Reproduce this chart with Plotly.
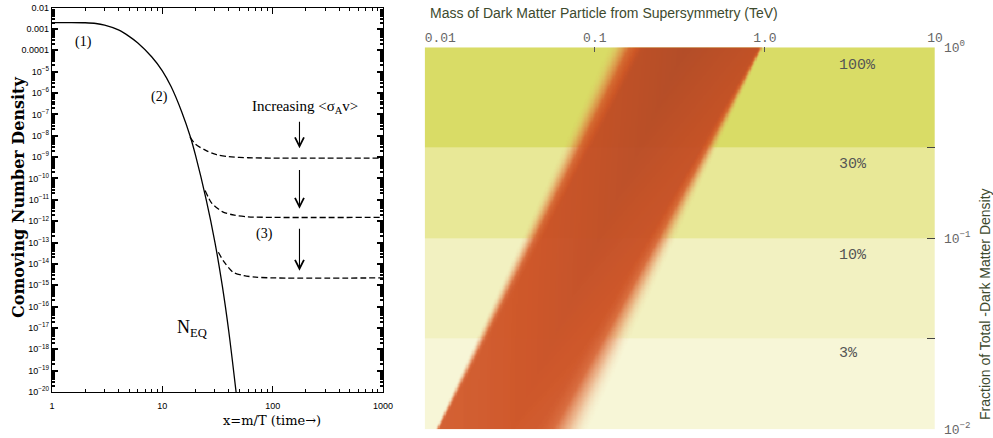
import numpy as np
import plotly.graph_objects as go

# ---------------- Left panel: freeze-out curves ----------------
eq_x = [1, 1.5, 2, 2.5, 3, 4, 5, 6, 8, 10, 12, 15, 18, 20, 25, 30, 35, 40, 46.6]
eq_y = [2.0e-3, 2.0e-3, 1.95e-3, 1.8e-3, 1.5e-3, 9e-4, 4.5e-4, 2.2e-4, 5e-5, 1.1e-5,
        2e-6, 1.3e-7, 8.5e-9, 1.2e-9, 1e-11, 1e-13, 9e-16, 7e-18, 1e-20]

fo1_x = [17.8, 20, 25, 31, 40, 60, 100, 1000]
fo1_y = [8.5e-9, 4e-9, 2e-9, 1.3e-9, 1.05e-9, 9.3e-10, 9e-10, 9e-10]
fo2_x = [24.4, 28, 32, 36, 45, 60, 100, 1000]
fo2_y = [2.7e-11, 7e-12, 3.8e-12, 2.6e-12, 1.9e-12, 1.6e-12, 1.5e-12, 1.5e-12]
fo3_x = [32.2, 36, 40, 44, 55, 70, 100, 1000]
fo3_y = [3.5e-14, 1.3e-14, 6.5e-15, 4e-15, 2.8e-15, 2.4e-15, 2.2e-15, 2.2e-15]

arrow_x = 175
arrow_tail = [10**-7.28, 10**-9.54, 10**-12.29]
arrow_head = [10**-8.59, 10**-11.42, 10**-14.32]

left_xticks = [1, 10, 100, 1000]
left_xtext = ["1", "10", "100", "1000"]
left_yticks = [10.0**-k for k in range(2, 21)]
left_ytext = ["0.01", "0.001", "0.0001"] + ["10<sup>\u2212%d</sup>" % k for k in range(5, 21)]

# ---------------- Right panel: dark matter fraction ----------------
band_edges = [0.01, 0.03, 0.1, 0.3, 1.0]          # ascending
band_colors = ["#f7f6d7", "#f2f1c1", "#e8e897", "#d9dc66"]  # bottom -> top
pct_labels = ["100%", "30%", "10%", "3%"]
pct_y = [0.80, 0.242, 0.0808, 0.025]
pct_x = 2.66
mass_range = [0.01, 10]

strip_frac = [0.01, 1.0]      # fraction at bottom / top of the diagonal strip
strip_mass_lo = [0.0115, 0.118]
strip_mass_hi = [0.094, 0.98]

right_xticks = [0.01, 0.1, 1, 10]
right_xtext = ["\u00a0\u00a0\u00a0\u00a00.01", "0.1", "1.0", "10"]
right_yticks = [1, 0.3, 0.1, 0.03, 0.01]
right_ytext = ["10<sup>0</sup>", "", "10<sup>\u22121</sup>", "", "10<sup>\u22122</sup>"]

fig = go.Figure()

# left curves
fig.add_trace(go.Scatter(x=eq_x, y=eq_y, mode="lines", line=dict(color="black", width=1.3, shape="spline", smoothing=0.8),
                         xaxis="x", yaxis="y", hoverinfo="skip"))
for fx, fy in [(fo1_x, fo1_y), (fo2_x, fo2_y), (fo3_x, fo3_y)]:
    fig.add_trace(go.Scatter(x=fx, y=fy, mode="lines",
                             line=dict(color="black", width=1.3, dash="6px,3px", shape="spline", smoothing=0.8),
                             xaxis="x", yaxis="y", hoverinfo="skip"))

# right background bands (heatmap so the strip can be layered on top)
nb = len(band_colors)
fig.add_trace(go.Heatmap(x=mass_range, y=band_edges, z=[[i] for i in range(nb)], zmin=0, zmax=nb - 1,
                         colorscale=[[i / (nb - 1), c] for i, c in enumerate(band_colors)],
                         showscale=False, hoverinfo="skip", xaxis="x2", yaxis="y2"))

# diagonal strip rendered as a soft-edged heatmap
nx, ny = 420, 300
lx_edges = np.linspace(np.log10(mass_range[0]), np.log10(mass_range[1]), nx + 1)
ly_edges = np.linspace(np.log10(band_edges[0]), np.log10(band_edges[-1]), ny + 1)
lxc = 0.5 * (lx_edges[:-1] + lx_edges[1:])
lyc = 0.5 * (ly_edges[:-1] + ly_edges[1:])
LX, LY = np.meshgrid(lxc, lyc)
lf = np.log10(strip_frac)
llo = np.log10(strip_mass_lo)
lhi = np.log10(strip_mass_hi)
t = (LY - lf[0]) / (lf[1] - lf[0])
left = llo[0] + t * (llo[1] - llo[0])
right = lhi[0] + t * (lhi[1] - lhi[0])
s = (LX - left) / (right - left)


def ss(u):
    u = np.clip(u, 0, 1)
    return u * u * (3 - 2 * u)


wl = 0.03 + 0.22 * t
wr = 0.03 + 0.32 * (1 - t)
a = ss(s / wl) * ss((1 - s) / wr)
core = 1 - 0.12 * np.abs(s - 0.5) / 0.5
z = a * (0.78 + 0.22 * t) * core
z[(s < 0) | (s > 1)] = np.nan

fig.add_trace(go.Heatmap(x=10 ** lx_edges, y=10 ** ly_edges, z=z, zmin=0, zmax=1,
                         colorscale=[[0.0, "rgba(232,140,90,0)"], [0.25, "rgba(224,112,62,0.45)"],
                                     [0.55, "rgba(212,88,40,0.86)"], [0.8, "rgba(204,80,35,0.96)"],
                                     [1.0, "rgba(178,72,38,0.97)"]],
                         showscale=False, hoverinfo="skip", xaxis="x2", yaxis="y2"))

annotations = []
for k in range(3):
    annotations.append(dict(x=np.log10(arrow_x), y=np.log10(arrow_head[k]), ax=np.log10(arrow_x),
                            ay=np.log10(arrow_tail[k]), xref="x", yref="y", axref="x", ayref="y",
                            text="", showarrow=True, arrowhead=5, arrowsize=1.6, arrowwidth=1.1,
                            arrowcolor="black"))

serif = "Liberation Serif"
C = dict(xanchor="center", yanchor="middle", showarrow=False)
annotations += [
    dict(x=np.log10(1.91), y=-3.6, xref="x", yref="y", text="(1)",
         font=dict(family=serif, size=14, color="black"), **C),
    dict(x=np.log10(9.5), y=-6.2, xref="x", yref="y", text="(2)",
         font=dict(family=serif, size=14, color="black"), **C),
    dict(x=np.log10(85), y=-12.58, xref="x", yref="y", text="(3)",
         font=dict(family=serif, size=14, color="black"), **C),
    dict(x=np.log10(197), y=-6.67, xref="x", yref="y", text="Increasing &lt;\u03c3<sub>A</sub>v&gt;",
         font=dict(family=serif, size=15, color="black"), **C),
    dict(x=np.log10(18.5), y=-17.04, xref="x", yref="y", text="N<sub>EQ</sub>",
         font=dict(family=serif, size=18, color="black"), **C),
    dict(x=18 / 993, y=1 - 198 / 438, xref="paper", yref="paper", text="<b>Comoving Number Density</b>",
         textangle=-90, font=dict(family="DejaVu Serif", size=16, color="black"), **C),
    dict(x=272 / 993, y=1 - 420 / 438, xref="paper", yref="paper", text="x=m/T (time\u2192)",
         font=dict(family="DejaVu Serif", size=13, color="black"), **C),
    dict(x=985 / 993, y=1 - 304 / 438, xref="paper", yref="paper",
         text="Fraction of Total -Dark Matter Density", textangle=-90,
         font=dict(family="Liberation Sans", size=14, color="#3d4a2e"), **C),
    dict(x=428 / 993, y=1 - 13 / 438, xref="paper", yref="paper", xanchor="left", yanchor="middle",
         text="Mass of Dark Matter Particle from Supersymmetry (TeV)", showarrow=False,
         font=dict(family="Liberation Sans", size=14, color="#3d4a2e")),
]
for lab, yy in zip(pct_labels, pct_y):
    annotations.append(dict(x=np.log10(pct_x), y=np.log10(yy), xref="x2", yref="y2", xanchor="left",
                            yanchor="middle", text=lab, showarrow=False,
                            font=dict(family="Liberation Mono", size=15, color="#555555")))

axis_font = dict(family="Liberation Sans", size=9, color="black")
fig.update_layout(
    width=993, height=438, margin=dict(l=0, r=0, t=0, b=0, autoexpand=False),
    paper_bgcolor="white", plot_bgcolor="rgba(0,0,0,0)", showlegend=False,
    annotations=annotations,
    xaxis=dict(domain=[52 / 993, 383 / 993], type="log", range=[0, 3], anchor="y", automargin=False,
               tickmode="array", tickvals=left_xticks, ticktext=left_xtext,
               ticks="inside", ticklen=6, tickwidth=1, tickcolor="black", mirror="allticks",
               showline=True, linecolor="black", linewidth=1.3, showgrid=False, zeroline=False,
               tickfont=axis_font, ticklabelstandoff=5,
               minor=dict(ticks="inside", ticklen=3, dtick="D1", tickcolor="black", showgrid=False)),
    yaxis=dict(domain=[(438 - 392) / 438, (438 - 7.6) / 438], type="log", range=[-20, -2], anchor="x",
               automargin=False,
               tickmode="array", tickvals=left_yticks, ticktext=left_ytext,
               ticks="inside", ticklen=6, tickwidth=1.5, tickcolor="black", mirror="allticks",
               showline=True, linecolor="black", linewidth=1.3, showgrid=False, zeroline=False,
               tickfont=axis_font,
               minor=dict(ticks="inside", ticklen=3, dtick="D1", tickcolor="black", showgrid=False)),
    xaxis2=dict(domain=[424.7 / 993, 935 / 993], type="log", range=[-2, 1], anchor="y2", side="top",
                automargin=False,
                tickmode="array", tickvals=right_xticks, ticktext=right_xtext,
                ticks="inside", ticklen=5, tickwidth=1.2, tickcolor="#555555",
                showline=False, showgrid=False, zeroline=False, ticklabelstandoff=2,
                tickfont=dict(family="Liberation Mono", size=13, color="#666666")),
    yaxis2=dict(domain=[(438 - 429.3) / 438, (438 - 47.3) / 438], type="log", range=[-2, 0], anchor="x2",
                side="right", automargin=False,
                tickmode="array", tickvals=right_yticks, ticktext=right_ytext,
                ticks="inside", ticklen=8, tickwidth=1.2, tickcolor="#444444",
                showline=False, showgrid=False, zeroline=False, ticklabelstandoff=8,
                tickfont=dict(family="Liberation Mono", size=13, color="#666666")),
)

fig.write_html("out.html", config={"displayModeBar": False},
               post_script="document.body.style.margin='0';document.body.style.overflow='hidden';")
